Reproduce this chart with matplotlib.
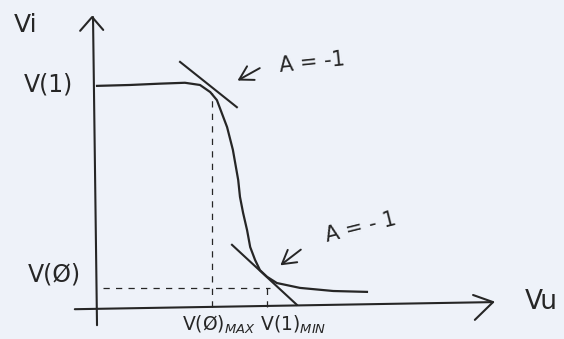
import matplotlib.pyplot as plt

# Caratteristica di trasferimento dell'invertitore (schizzo)
vin = [0.0, 0.74, 1.42, 1.98, 2.32, 2.55, 2.70, 2.93, 3.06, 3.18, 3.22, 3.29, 3.38,
       3.45, 3.56, 3.67, 3.83, 4.05, 4.57, 5.32, 6.08]
vout = [4.98, 5.00, 5.03, 5.05, 5.00, 4.84, 4.66, 4.05, 3.54, 2.86, 2.48, 2.12, 1.73,
        1.35, 1.06, 0.83, 0.68, 0.54, 0.43, 0.36, 0.34]

# tangenti a pendenza -1 (estremi dei segmenti)
tang_alta_x = [1.87, 3.15]
tang_alta_y = [5.52, 4.50]
tang_bassa_x = [3.04, 4.50]
tang_bassa_y = [1.40, 0.05]

v_uno = 5.0        # V(1)
v_zero = 0.43      # V(Ø)
v_zero_max = 2.59  # V(Ø)MAX
v_uno_min = 3.83   # V(1)MIN

ink = '#262626'
bg = '#eef2f9'

fig = plt.figure(figsize=(5.64, 3.39), dpi=100, facecolor=bg)
ax = fig.add_axes([0, 0, 1, 1])
ax.set_facecolor(bg)
ax.set_xlim(-2.185, 10.518)
ax.set_ylim(-0.721, 6.914)
ax.axis('off')

# assi con frecce disegnate a mano
ax.plot([0.0, -0.09], [-0.41, 6.53], color=ink, lw=1.5, solid_capstyle='round')
ax.plot([-0.38, -0.11, 0.14], [6.22, 6.53, 6.24], color=ink, lw=1.5, solid_capstyle='round')
ax.plot([-0.50, 8.92], [-0.05, 0.11], color=ink, lw=1.5, solid_capstyle='round')
ax.plot([8.47, 8.92, 8.51], [0.27, 0.11, -0.29], color=ink, lw=1.5, solid_capstyle='round')

# curva
ax.plot(vin, vout, color=ink, lw=1.6, solid_joinstyle='round')

# tangenti
ax.plot(tang_alta_x, tang_alta_y, color=ink, lw=1.5)
ax.plot(tang_bassa_x, tang_bassa_y, color=ink, lw=1.5)

# linee tratteggiate
dash = dict(color=ink, lw=0.9, dashes=(5, 5))
ax.plot([v_zero_max, v_zero_max], [0.0, 4.82], **dash)
ax.plot([0.14, 3.90], [v_zero, v_zero], **dash)
ax.plot([v_uno_min, v_uno_min], [0.0, v_zero], **dash)

# frecce verso le tangenti
arrow = dict(arrowstyle='->,head_length=0.6,head_width=0.35', color=ink, lw=1.4,
             mutation_scale=16)
ax.annotate('', xy=(3.11, 5.07), xytext=(3.72, 5.41), arrowprops=arrow)
ax.annotate('', xy=(4.08, 0.90), xytext=(4.64, 1.33), arrowprops=arrow)

# etichette
ax.text(-1.6, 6.34, 'Vi', fontsize=18, color=ink, ha='center', va='center')
ax.text(-1.10, v_uno, 'V(1)', fontsize=17, color=ink, ha='center', va='center')
ax.text(-0.97, 0.74, 'V(Ø)', fontsize=17, color=ink, ha='center', va='center')
ax.text(10.0, 0.11, 'Vu', fontsize=19, color=ink, ha='center', va='center')
ax.text(4.85, 5.50, 'A = -1', fontsize=15, color=ink, ha='center', va='center', rotation=6)
ax.text(5.95, 1.80, 'A = - 1', fontsize=15, color=ink, ha='center', va='center', rotation=14)
ax.text(3.55, -0.40, r'V(Ø)$_{MAX}$ V(1)$_{MIN}$', fontsize=13.5, color=ink,
        ha='center', va='center')

fig.savefig('out.png', dpi=100, facecolor=bg)
